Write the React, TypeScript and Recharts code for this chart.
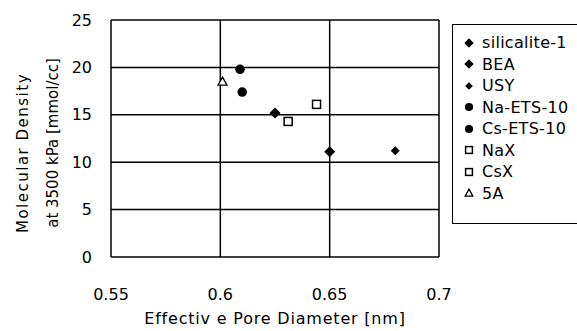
import { ScatterChart, Scatter, XAxis, YAxis, CartesianGrid, Label } from 'recharts'

const FONT = 'DejaVu Sans'

// effective pore diameter [nm] vs molecular density at 3500 kPa [mmol/cc]
const silicalite = [{ x: 0.625, y: 15.2 }]
const bea = [{ x: 0.65, y: 11.1 }]
const usy = [{ x: 0.68, y: 11.2 }]
const naEts = [{ x: 0.61, y: 17.4 }]
const csEts = [{ x: 0.609, y: 19.8 }]
const naX = [{ x: 0.644, y: 16.1 }]
const csX = [{ x: 0.631, y: 14.3 }]
const fiveA = [{ x: 0.601, y: 18.5 }]

const xTicks = [0.55, 0.6, 0.65, 0.7]
const yTicks = [0, 5, 10, 15, 20, 25]

type Kind = 'diamond' | 'smallDiamond' | 'circle' | 'square' | 'triangle'

const seriesList: { name: string; data: { x: number; y: number }[]; kind: Kind }[] = [
  { name: 'silicalite-1', data: silicalite, kind: 'diamond' },
  { name: 'BEA', data: bea, kind: 'diamond' },
  { name: 'USY', data: usy, kind: 'smallDiamond' },
  { name: 'Na-ETS-10', data: naEts, kind: 'circle' },
  { name: 'Cs-ETS-10', data: csEts, kind: 'circle' },
  { name: 'NaX', data: naX, kind: 'square' },
  { name: 'CsX', data: csX, kind: 'square' },
  { name: '5A', data: fiveA, kind: 'triangle' },
]

function Marker({ kind, cx, cy, scale = 1 }: { kind: Kind; cx: number; cy: number; scale?: number }) {
  if (kind === 'diamond' || kind === 'smallDiamond') {
    const r = (kind === 'diamond' ? 5.5 : 4.5) * scale
    return <path d={`M${cx},${cy - r}L${cx + r},${cy}L${cx},${cy + r}L${cx - r},${cy}Z`} fill="#000" />
  }
  if (kind === 'circle') return <circle cx={cx} cy={cy} r={4.8 * scale} fill="#000" />
  if (kind === 'square') {
    const h = 4 * scale
    return <rect x={cx - h} y={cy - h} width={h * 2} height={h * 2} fill="#fff" stroke="#000" strokeWidth={1.5} />
  }
  const t = 4.5 * scale
  return <path d={`M${cx},${cy - t}L${cx + t},${cy + t * 0.8}L${cx - t},${cy + t * 0.8}Z`} fill="#fff" stroke="#000" strokeWidth={1.3} />
}

function LegendBox() {
  return (
    <div style={{ position: 'absolute', left: 452, top: 24, border: '1px solid #000', width: 160, height: 200, boxSizing: 'border-box', paddingTop: 7, fontFamily: FONT, fontSize: 16, letterSpacing: 0.3, color: '#000' }}>
      {seriesList.map((s) => (
        <div key={s.name} style={{ height: 21.5, display: 'flex', alignItems: 'center' }}>
          <svg width={29} height={16}>
            <Marker kind={s.kind} cx={16} cy={8} scale={0.85} />
          </svg>
          <span>{s.name}</span>
        </div>
      ))}
    </div>
  )
}

function YTitle() {
  return (
    <g fontFamily={FONT} fontSize={15} fill="#000">
      <text x={23} y={153} transform="rotate(-90, 23, 153)" textAnchor="middle" dominantBaseline="central" letterSpacing={1.5}>Molecular Density</text>
      <text x={53} y={143} transform="rotate(-90, 53, 143)" textAnchor="middle" dominantBaseline="central">at 3500 kPa [mmol/cc]</text>
    </g>
  )
}

export default function App() {
  return (
    <div style={{ position: 'fixed', left: 0, top: 0, width: 577, height: 331, background: '#fff', overflow: 'hidden' }}>
      <ScatterChart width={577} height={331} margin={{ top: 20, right: 138, bottom: 44, left: 51 }}>
        <CartesianGrid stroke="#000" strokeWidth={1.5} horizontalValues={yTicks} verticalValues={xTicks} />
        <XAxis
          type="number"
          dataKey="x"
          domain={[0.55, 0.7]}
          ticks={xTicks}
          axisLine={false}
          tickLine={false}
          tickMargin={26}
          height={30}
          tick={{ fill: '#000', fontSize: 16, fontFamily: FONT }}
        >
          <Label value="Effectiv e Pore Diameter [nm]" position="bottom" offset={26} fill="#000" fontSize={16} fontFamily={FONT} letterSpacing={0.8} />
        </XAxis>
        <YAxis
          type="number"
          dataKey="y"
          domain={[0, 25]}
          ticks={yTicks}
          axisLine={false}
          tickLine={false}
          tickMargin={13}
          width={60}
          tick={{ fill: '#000', fontSize: 16, fontFamily: FONT }}
        >
          <Label content={() => <YTitle />} />
        </YAxis>
        {seriesList.map((s) => (
          <Scatter
            key={s.name}
            name={s.name}
            data={s.data}
            isAnimationActive={false}
            shape={(p: { cx?: number; cy?: number }) => <Marker kind={s.kind} cx={p.cx ?? 0} cy={p.cy ?? 0} />}
          />
        ))}
      </ScatterChart>
      <LegendBox />
    </div>
  )
}
